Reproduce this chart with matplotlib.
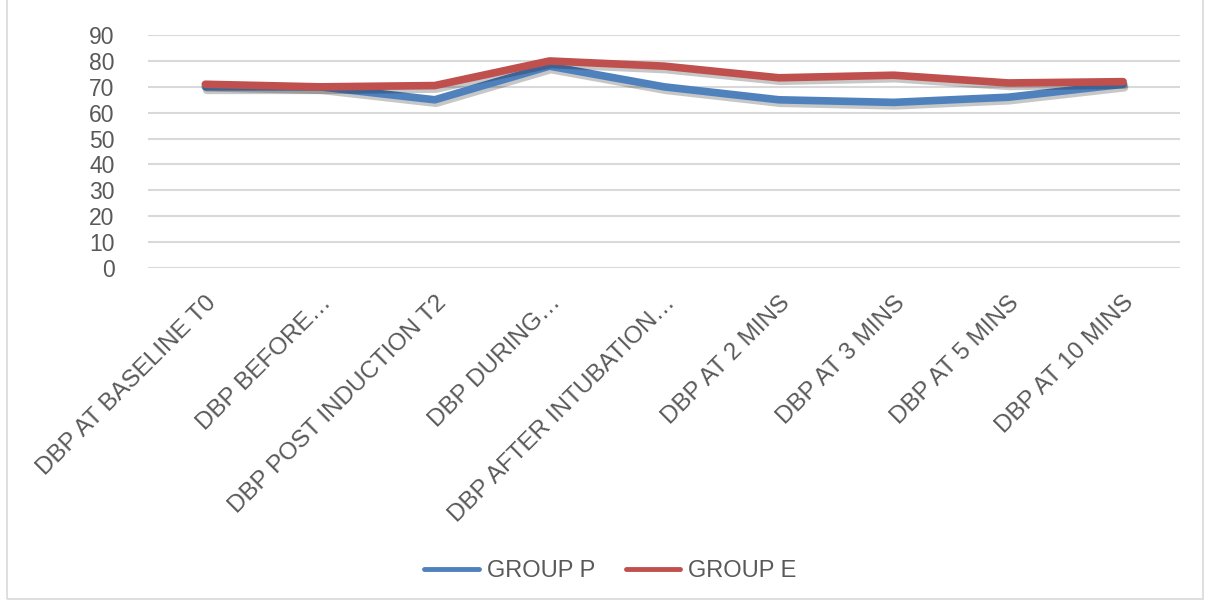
import matplotlib.pyplot as plt
import matplotlib.patheffects as pe
from matplotlib.patches import Rectangle

plt.rcParams['font.family'] = ['Liberation Sans', 'DejaVu Sans']

labels = ['DBP AT BASELINE T0', 'DBP BEFORE…', 'DBP POST INDUCTION T2',
          'DBP DURING…', 'DBP AFTER INTUBATION…', 'DBP AT 2 MINS',
          'DBP AT 3 MINS', 'DBP AT 5 MINS', 'DBP AT 10 MINS']
group_p = [70, 70, 65, 78, 70, 65, 64, 66, 71]
group_e = [71, 70, 70.5, 80, 78, 73.5, 74.5, 71.5, 72]

text_col = '#595959'

fig = plt.figure(figsize=(12.09, 6.05), dpi=100)
ax = fig.add_axes([0.1224, 0.557, 0.854, 0.385])

# light outer frame of the chart area
fig.patches.append(Rectangle((0.006, 0.01), 0.989, 1.2, transform=fig.transFigure,
                             fill=False, edgecolor='#d9d9d9', linewidth=1.2))

x = range(len(labels))
shadow = [pe.SimpleLineShadow(offset=(1, -2.5), shadow_color='black', alpha=0.22),
          pe.Normal()]
ax.plot(x, group_p, color='#4F81BD', linewidth=5.5, solid_capstyle='round',
        label='GROUP P', path_effects=shadow)
ax.plot(x, group_e, color='#C0504D', linewidth=5.5, solid_capstyle='round',
        label='GROUP E', path_effects=shadow)

ax.set_xlim(-0.5, len(labels) - 0.5)
ax.set_ylim(0, 90)
ax.set_yticks(range(0, 91, 10))
ax.set_xticks(list(x))
ax.set_xticklabels(labels, rotation=45, ha='right', rotation_mode='anchor')
ax.tick_params(axis='both', length=0, labelcolor=text_col)
ax.tick_params(axis='y', pad=24, labelsize=16.5)
ax.tick_params(axis='x', pad=17, labelsize=17.5)
ax.grid(axis='y', color='#d9d9d9', linewidth=1.5)
ax.set_axisbelow(True)
for s in ax.spines.values():
    s.set_visible(False)

leg = fig.legend(loc='center', bbox_to_anchor=(0.505, 0.056), ncol=2, frameon=False,
                 fontsize=17, handlelength=2.3, columnspacing=1.3, handletextpad=0.35)
for t in leg.get_texts():
    t.set_color(text_col)
for h in leg.legend_handles:
    h.set_linewidth(3.5)
    h.set_path_effects([])

fig.savefig('out.png', dpi=100)
